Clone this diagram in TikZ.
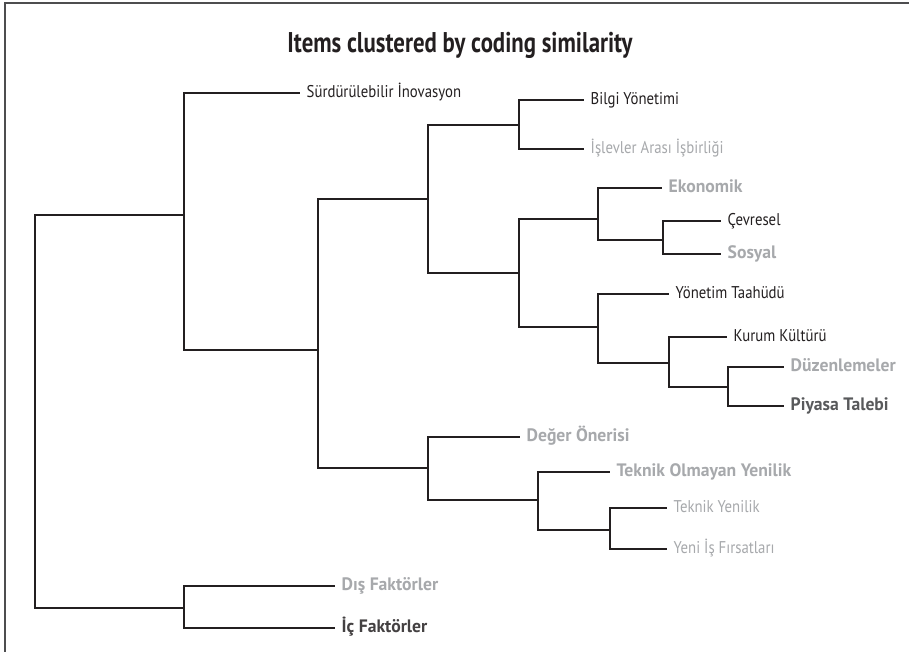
\documentclass[tikz,border=0pt]{standalone}
\usepackage{fontspec}
\setmainfont{PT Sans}[FakeStretch=0.87]
\newfontfamily\titlefont{PT Sans}[FakeStretch=0.8]
\newfontfamily\boldlabfont{PT Sans}[FakeStretch=0.98]
\definecolor{txtdark}{HTML}{231F20}
\definecolor{txtgray}{HTML}{A7A9AC}
\definecolor{txtmid}{HTML}{58595B}
\definecolor{linecol}{HTML}{231F20}
\definecolor{framecol}{HTML}{4D4D4F}
\tikzset{
  link/.style={draw=linecol, line width=1.2pt},
  leaf/.style={anchor=west, inner xsep=6.5pt, inner ysep=0pt, text height=8.5pt, text depth=0pt, font=\fontsize{17}{19}\selectfont},
  plain/.style={leaf, text=txtdark},
  lgray/.style={leaf, text=txtgray},
  bgray/.style={leaf, text=txtgray, font=\boldlabfont\bfseries\fontsize{18}{20}\selectfont},
  bdark/.style={leaf, text=txtmid, font=\boldlabfont\bfseries\fontsize{18}{20}\selectfont},
  bblack/.style={leaf, text=txtdark!85, font=\boldlabfont\bfseries\fontsize{18}{20}\selectfont}
}
\begin{document}
\begin{tikzpicture}[x=1pt,y=-1pt]
\useasboundingbox (0,0) rectangle (909,652);
\fill[white] (0,0) rectangle (909,652);
\draw[framecol, line width=1.5pt] (5,652) -- (5,3) -- (909,3);
\node[font=\titlefont\bfseries\fontsize{28.5}{32}\selectfont, text=txtdark] (title) at (460,45) {Items clustered by coding similarity};
% internal junctions
\coordinate (R) at (35,412);
\coordinate (A) at (184,215);
\coordinate (F) at (184,608);
\coordinate (B) at (318,350);
\coordinate (C) at (428,199);
\coordinate (G) at (428,468);
\coordinate (D) at (519,125);
\coordinate (E) at (519,273);
\coordinate (E1) at (598,219);
\coordinate (E3) at (663,240);
\coordinate (E2) at (598,327);
\coordinate (E4) at (669,363);
\coordinate (E5) at (728,387);
\coordinate (G1) at (538,500);
\coordinate (G2) at (610,530);
% leaves
\node[plain] (sur) at (300,93) {Sürdürülebilir İnovasyon};
\node[plain] (bilgi) at (584,100) {Bilgi Yönetimi};
\node[lgray] (islev) at (584,149) {İşlevler Arası İşbirliği};
\node[bgray] (eko) at (662,188) {Ekonomik};
\node[plain] (cev) at (721,221) {Çevresel};
\node[bgray] (sos) at (721,254) {Sosyal};
\node[plain] (yon) at (669,294) {Yönetim Taahüdü};
\node[plain] (kur) at (727,337) {Kurum Kültürü};
\node[bgray] (duz) at (784,367) {Düzenlemeler};
\node[bdark] (piy) at (784,406) {Piyasa Talebi};
\node[bgray] (deg) at (520,437) {Değer Önerisi};
\node[bgray] (tol) at (610,472) {Teknik Olmayan Yenilik};
\node[lgray] (tyen) at (667,508) {Teknik Yenilik};
\node[lgray] (yeni) at (667,549) {Yeni İş Fırsatları};
\node[bgray] (dis) at (335,586) {Dış Faktörler};
\node[bblack] (ic) at (335,628) {İç Faktörler};
% connectors
\draw[link] (R) |- (A);
\draw[link] (R) |- (F);
\draw[link] (A) |- (sur.west);
\draw[link] (A) |- (B);
\draw[link] (B) |- (C);
\draw[link] (B) |- (G);
\draw[link] (C) |- (D);
\draw[link] (C) |- (E);
\draw[link] (D) |- (bilgi.west);
\draw[link] (D) |- (islev.west);
\draw[link] (E) |- (E1);
\draw[link] (E) |- (E2);
\draw[link] (E1) |- (eko.west);
\draw[link] (E1) |- (E3);
\draw[link] (E3) |- (cev.west);
\draw[link] (E3) |- (sos.west);
\draw[link] (E2) |- (yon.west);
\draw[link] (E2) |- (E4);
\draw[link] (E4) |- (kur.west);
\draw[link] (E4) |- (E5);
\draw[link] (E5) |- (duz.west);
\draw[link] (E5) |- (piy.west);
\draw[link] (G) |- (deg.west);
\draw[link] (G) |- (G1);
\draw[link] (G1) |- (tol.west);
\draw[link] (G1) |- (G2);
\draw[link] (G2) |- (tyen.west);
\draw[link] (G2) |- (yeni.west);
\draw[link] (F) |- (dis.west);
\draw[link] (F) |- (ic.west);
\end{tikzpicture}
\end{document}
